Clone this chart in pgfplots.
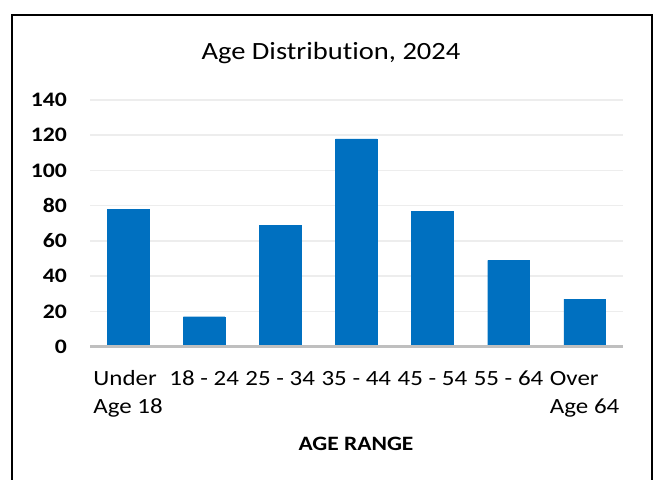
\documentclass[border=0pt]{standalone}
\usepackage{pgfplots}
\pgfplotsset{compat=1.18}
\usepackage{fontspec}
\setmainfont{Carlito}[FakeStretch=1.15, Ligatures={NoCommon}]
\definecolor{barblue}{HTML}{0070C0}
\definecolor{gridgray}{HTML}{EDEDED}
\definecolor{axgray}{HTML}{BFBFBF}
\newcommand{\tl}[3]{\begin{tabular}[t]{@{}#1@{}}#2\\#3\end{tabular}}
\newcommand{\tone}[1]{\begin{tabular}[t]{@{}c@{}}#1\end{tabular}}
\begin{document}
\begin{tikzpicture}[x=1pt,y=1pt]
\clip (0,0) rectangle (657,-480);
\draw[line width=2pt] (12.3,-14.7) rectangle (651.7,-530);
\node[anchor=base, inner sep=0pt, font=\fontsize{24.8}{30}\selectfont] at (331,-59.3) {Age Distribution, 2024};
\begin{axis}[
  at={(90pt,-346.7pt)}, anchor=south west,
  scale only axis, width=532.7pt, height=246.7pt,
  xmin=-0.5, xmax=6.5, ymin=0, ymax=140,
  ytick={0,20,...,140}, xtick={0,...,6},
  xticklabels={{\tl{l}{Under}{Age 18}},{\tone{18 - 24}},{\tone{25 - 34}},{\tone{35 - 44}},{\tone{45 - 54}},{\tone{55 - 64}},{\tl{l}{Over}{Age 64}}},
  axis line style={draw=none},
  major tick length=0pt,
  ymajorgrids, grid style={gridgray, line width=1.5pt},
  /pgf/number format/assume math mode=true,
  yticklabel style={anchor=east, inner sep=0pt, xshift=-23pt, font=\bfseries\fontsize{20.6}{24}\selectfont},
  xticklabel style={anchor=base, inner sep=0pt, yshift=-38.3pt, font=\fontsize{21.7}{28}\selectfont},
  clip=false,
]
\addplot[ybar, bar width=41.6pt, fill=barblue, draw=barblue] coordinates {
  (0,78) (1,17) (2,69) (3,118) (4,77) (5,49) (6,27)
};
\draw[axgray, line width=2.5pt] (axis cs:-0.5,0) -- (axis cs:6.5,0);
\end{axis}
\node[anchor=base, inner sep=0pt, font=\bfseries\fontsize{20.4}{24}\selectfont] at (356,-450) {AGE RANGE};
\end{tikzpicture}
\end{document}
